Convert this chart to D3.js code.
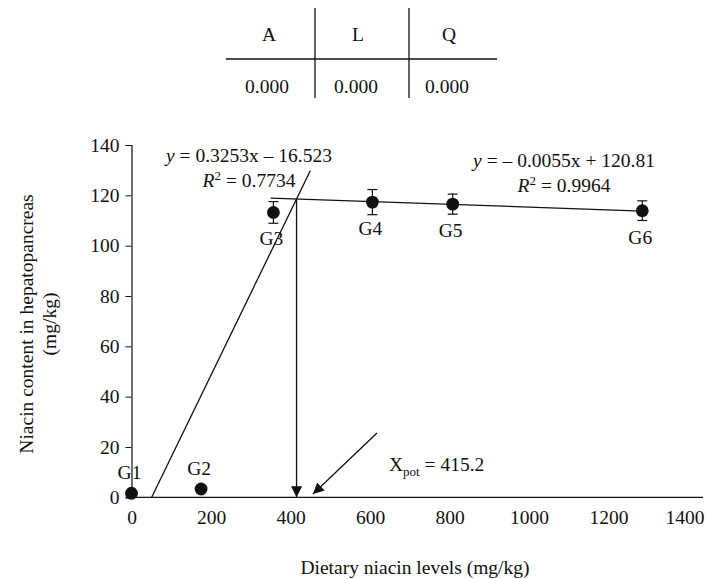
<!DOCTYPE html>
<html>
<head>
<meta charset="utf-8">
<script src="https://cdn.jsdelivr.net/npm/d3@7"></script>
<style>
  body { margin: 0; background: #fff; }
  svg text { font-family: "Liberation Serif", "DejaVu Serif", serif; fill: #111; }
</style>
</head>
<body>
<svg id="chart" width="706" height="579"></svg>
<script>
// datos
const grupos = ["G1", "G2", "G3", "G4", "G5", "G6"];
const nivelesNiacina = [0, 175, 357, 606, 808, 1285];
const contenido = [1.6, 3.3, 113.2, 117.3, 116.5, 113.9];
const errores = [0, 0, 4.3, 5, 4, 3.9];
const ticksX = [0, 200, 400, 600, 800, 1000, 1200, 1400];
const ticksY = [0, 20, 40, 60, 80, 100, 120, 140];

// rectas de regresion: [pendiente, intercepto]
const rectaSubida = [0.3253, -16.523];
const rectaMeseta = [-0.0055, 120.81];
const rangoSubida = [50.8, 450];
const rangoMeseta = [350, 1285];
const xPot = 415.2;

const encabezados = ["A", "L", "Q"];
const valoresTabla = ["0.000", "0.000", "0.000"];

const FS = "19.5px";
const svg = d3.select("#chart");

// escalas
const x = d3.scaleLinear().domain([0, 1400]).range([131.5, 688]);
const y = d3.scaleLinear().domain([0, 140]).range([497.3, 145]);

//////////////// Tabla //////////////////
const tabla = svg.append("g");
const colX = [269, 358, 449];
tabla.selectAll(".enc")
    .data(encabezados)
    .enter()
    .append("text")
    .attr("x", (d, i) => colX[i])
    .attr("y", 41)
    .attr("text-anchor", "middle")
    .style("font-size", FS)
    .text(d => d);
tabla.selectAll(".val")
    .data(valoresTabla)
    .enter()
    .append("text")
    .attr("x", (d, i) => colX[i] - 2)
    .attr("y", 93)
    .attr("text-anchor", "middle")
    .style("font-size", FS)
    .text(d => d);
tabla.append("line")
    .attr("x1", 226).attr("x2", 497).attr("y1", 59).attr("y2", 59)
    .attr("stroke", "#111").attr("stroke-width", 1.3);
[315, 409].forEach(xv => {
    tabla.append("line")
        .attr("x1", xv).attr("x2", xv).attr("y1", 8).attr("y2", 98)
        .attr("stroke", "#111").attr("stroke-width", 1.3);
});

//////////////// Ejes //////////////////
const ejeY = svg.append("g")
    .attr("transform", `translate(${x(0)},0)`)
    .call(d3.axisLeft(y).tickValues(ticksY).tickSize(6).tickPadding(6));
ejeY.select(".domain").attr("stroke", "#111").attr("stroke-width", 1.2);
ejeY.selectAll(".tick line").attr("stroke", "#111");
ejeY.selectAll("text").style("font-size", FS).attr("fill", "#111");

const ejeX = svg.append("g")
    .attr("transform", `translate(0,${y(0)})`)
    .call(d3.axisBottom(x).tickValues(ticksX).tickFormat(d3.format("d")).tickSize(0).tickPadding(13));
ejeX.select(".domain").remove();
ejeX.selectAll("text").style("font-size", FS).attr("fill", "#111");
// la ultima etiqueta queda pegada al borde derecho
ejeX.selectAll(".tick text")
    .filter(d => d === 1400)
    .attr("text-anchor", "end")
    .attr("x", 704 - x(1400));
ejeX.append("line")
    .attr("x1", x(0)).attr("x2", 703)
    .attr("stroke", "#111").attr("stroke-width", 1.2);

// titulos
svg.append("text")
    .attr("x", 415).attr("y", 574)
    .attr("text-anchor", "middle")
    .style("font-size", FS)
    .text("Dietary niacin levels (mg/kg)");

const tituloY = svg.append("text")
    .attr("transform", "translate(33,324) rotate(-90)")
    .attr("text-anchor", "middle")
    .style("font-size", FS);
tituloY.append("tspan").attr("x", 0).attr("dy", 0).text("Niacin content in hepatopancreas");
tituloY.append("tspan").attr("x", 0).attr("dy", 23).text("(mg/kg)");

//////////////// Rectas //////////////////
const linea = d3.line().x(d => x(d[0])).y(d => y(d[1]));
const evalRecta = (r, xv) => r[0] * xv + r[1];

svg.append("path")
    .datum(rangoSubida.map(v => [v, evalRecta(rectaSubida, v)]))
    .attr("d", linea)
    .attr("fill", "none").attr("stroke", "#111").attr("stroke-width", 1.3);
svg.append("path")
    .datum(rangoMeseta.map(v => [v, evalRecta(rectaMeseta, v)]))
    .attr("d", linea)
    .attr("fill", "none").attr("stroke", "#111").attr("stroke-width", 1.3);

// flechas
svg.append("defs").append("marker")
    .attr("id", "punta")
    .attr("viewBox", "0 0 10 10")
    .attr("refX", 10).attr("refY", 5)
    .attr("markerWidth", 11).attr("markerHeight", 11)
    .attr("markerUnits", "userSpaceOnUse")
    .attr("orient", "auto")
    .append("path")
    .attr("d", "M0,0 L10,5 L0,10 Z")
    .attr("fill", "#111");

const yCruce = evalRecta(rectaMeseta, xPot);
svg.append("line")
    .attr("x1", x(xPot)).attr("y1", y(yCruce))
    .attr("x2", x(xPot)).attr("y2", y(0))
    .attr("stroke", "#111").attr("stroke-width", 1.3)
    .attr("marker-end", "url(#punta)");

svg.append("line")
    .attr("x1", 377).attr("y1", 433)
    .attr("x2", 313).attr("y2", 494)
    .attr("stroke", "#111").attr("stroke-width", 1.3)
    .attr("marker-end", "url(#punta)");

const etiquetaPot = svg.append("text")
    .attr("x", 389).attr("y", 471)
    .style("font-size", FS);
etiquetaPot.append("tspan").text("X");
etiquetaPot.append("tspan").attr("dy", 5).style("font-size", "13px").text("pot");
etiquetaPot.append("tspan").attr("dy", -5).text(` = ${xPot}`);

// ecuaciones
function ecuacion(cx, cy, texto, r2) {
    const t1 = svg.append("text")
        .attr("x", cx).attr("y", cy)
        .attr("text-anchor", "middle")
        .style("font-size", FS);
    t1.append("tspan").style("font-style", "italic").text("y");
    t1.append("tspan").text(texto);
    const t2 = svg.append("text")
        .attr("x", cx).attr("y", cy + 25)
        .attr("text-anchor", "middle")
        .style("font-size", FS);
    t2.append("tspan").style("font-style", "italic").text("R");
    t2.append("tspan").attr("dy", -7).style("font-size", "13px").text("2");
    t2.append("tspan").attr("dy", 7).text(" = " + r2);
}
ecuacion(249, 162, " = 0.3253x \u2013 16.523", "0.7734");
ecuacion(564, 167, " = \u2013 0.0055x + 120.81", "0.9964");

//////////////// Puntos //////////////////
const datos = grupos.map((g, i) => ({ g: g, x: nivelesNiacina[i], y: contenido[i], e: errores[i] }));

const barras = svg.append("g")
    .selectAll("g")
    .data(datos.filter(d => d.e > 0))
    .enter()
    .append("g")
    .attr("stroke", "#111").attr("stroke-width", 1.2);
barras.append("line")
    .attr("x1", d => x(d.x)).attr("x2", d => x(d.x))
    .attr("y1", d => y(d.y + d.e)).attr("y2", d => y(d.y - d.e));
barras.append("line")
    .attr("x1", d => x(d.x) - 5).attr("x2", d => x(d.x) + 5)
    .attr("y1", d => y(d.y + d.e)).attr("y2", d => y(d.y + d.e));
barras.append("line")
    .attr("x1", d => x(d.x) - 5).attr("x2", d => x(d.x) + 5)
    .attr("y1", d => y(d.y - d.e)).attr("y2", d => y(d.y - d.e));

svg.append("g")
    .selectAll("circle")
    .data(datos)
    .enter()
    .append("circle")
    .attr("cx", d => x(d.x))
    .attr("cy", d => y(d.y))
    .attr("r", 6.4)
    .attr("fill", "#111");

// etiquetas de grupo: G1 y G2 arriba, el resto abajo
svg.append("g")
    .selectAll("text")
    .data(datos)
    .enter()
    .append("text")
    .attr("x", d => x(d.x) - 2)
    .attr("y", (d, i) => i < 2 ? y(d.y) - 14 : y(d.y) + 33)
    .attr("text-anchor", "middle")
    .style("font-size", FS)
    .text(d => d.g);
</script>
</body>
</html>
